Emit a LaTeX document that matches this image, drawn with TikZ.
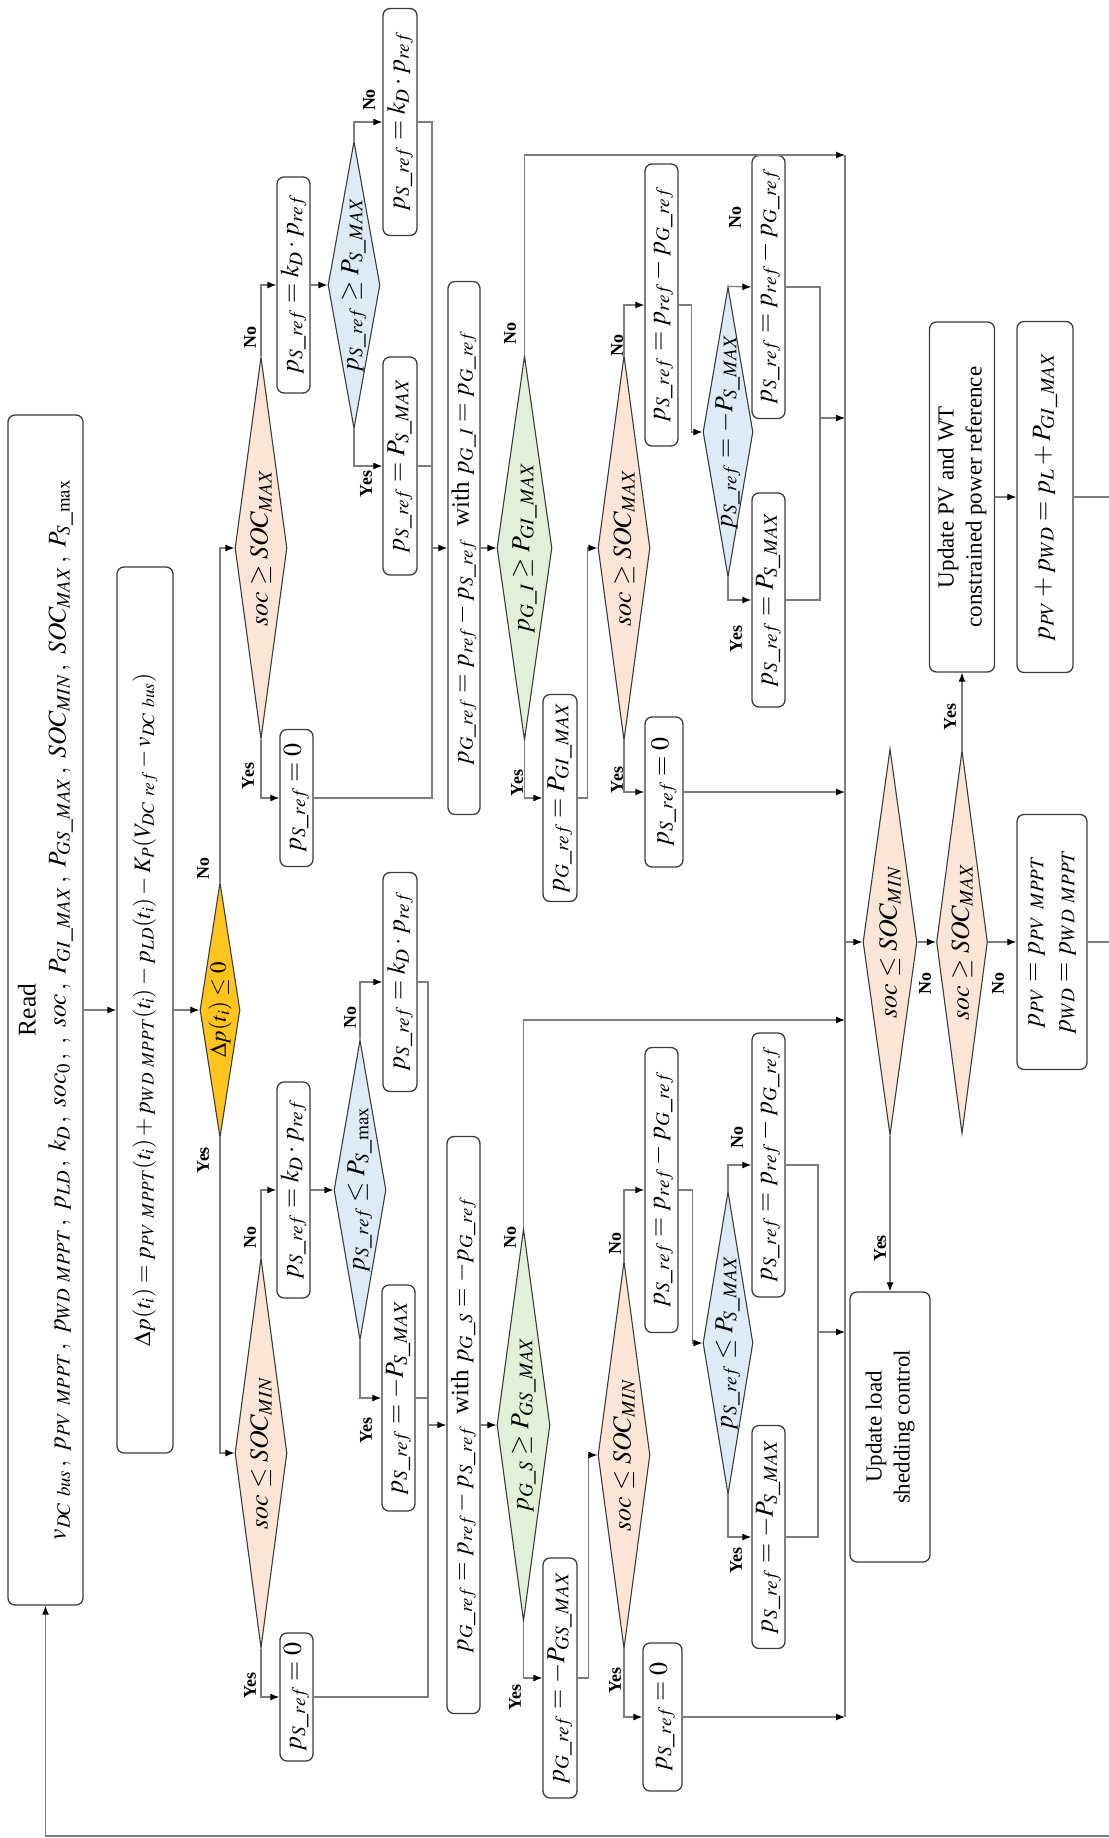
\documentclass[tikz,border=0pt]{standalone}
\usepackage{mathptmx}
\usepackage{fontspec}
\setmainfont{Liberation Serif}
\usetikzlibrary{shapes.geometric,arrows.meta}
\definecolor{figBord}{RGB}{60,60,60}
\definecolor{figTrait}{RGB}{125,125,125}
\definecolor{figPeche}{RGB}{251,229,214}
\definecolor{figBleuFond}{RGB}{222,235,247}
\definecolor{figVertFond}{RGB}{226,240,217}
\definecolor{figJaune}{RGB}{255,196,30}

\begin{document}
\begin{tikzpicture}[
  x=1pt, y=1pt, every node/.style={font=\fontsize{26}{31}\selectfont},
  proc/.style 2 args={draw=figBord, line width=1.3pt, rounded corners=7pt, fill=white, rotate=90,
              minimum width=#1pt, minimum height=#2pt, inner sep=1pt, align=center},
  dec/.style n args={3}{diamond, draw=figBord, line width=1.1pt, fill=#3, rotate=90, inner sep=0pt,
              minimum width=#1pt, minimum height=#2pt,
              execute at begin node={\hbox to 0pt\bgroup\hss}, execute at end node={\hss\egroup}},
  txt/.style={font=\fontsize{23}{28}\selectfont},
  lab/.style={font=\fontsize{18}{20}\selectfont\bfseries, rotate=90, inner sep=0pt},
  fl/.style={-{Latex[length=9pt, width=7pt, black]}, line width=1.2pt, figTrait},
  ln/.style={line width=1.2pt, figTrait}
]
\useasboundingbox (0,0) rectangle (1108,-1838);

% Lecture des mesures et bilan de puissance
\node[proc={1190}{75}, font=\fontsize{25.5}{30}\selectfont] (read) at (45.5,-1010) {Read\\
  $v_{DC\ bus}\,,\ p_{PV\ MPPT}\,,\ p_{WD\ MPPT}\,,\ p_{LD}\,,\ k_{D}\,,\ soc_{0}\,,\ ,\ soc\,,\ P_{GI\_MAX}\,,\ P_{GS\_MAX}\,,\ SOC_{MIN}\,,\ SOC_{MAX}\,,\ P_{S\_\mathrm{max}}$};
\node[proc={886}{56}, font=\fontsize{23.5}{28}\selectfont] (dp) at (145,-1010)
  {$\Delta p(t_i) = p_{PV\ MPPT}(t_i) + p_{WD\ MPPT}(t_i) - p_{LD}(t_i) - K_{P}(V_{DC\ ref} - v_{DC\ bus})$};
\node[dec={255}{40}{figJaune}, txt] (d0) at (220,-1010) {$\Delta p(t_i) \le 0$};

% Branche surplus (haut)
\node[dec={382}{52}{figPeche}] (t1) at (261,-548) {$soc \ge SOC_{MAX}$};
\node[proc={137}{33}] (t1y) at (296.5,-798) {$p_{S\_ref} = 0$};
\node[proc={216}{33}] (t1n) at (293.5,-285) {$p_{S\_ref} = k_D \cdot p_{ref}$};
\node[dec={287}{52}{figBleuFond}] (t2) at (354,-285) {$p_{S\_ref} \ge P_{S\_MAX}$};
\node[proc={227}{34}] (t2n) at (400,-122) {$p_{S\_ref} = k_D \cdot p_{ref}$};
\node[proc={218}{34}] (t2y) at (400,-466) {$p_{S\_ref} = P_{S\_MAX}$};
\node[proc={533}{32}, font=\fontsize{25}{30}\selectfont] (pg1) at (464,-548) {$p_{G\_ref} = p_{ref} - p_{S\_ref}$\enspace with $p_{G\_I} = p_{G\_ref}$};
\node[dec={384}{55}{figVertFond}] (g1) at (524.5,-548) {$p_{G\_I} \ge P_{GI\_MAX}$};
\node[proc={207}{34}] (g1y) at (560,-798) {$p_{G\_ref} = P_{GI\_MAX}$};
\node[dec={385}{52}{figPeche}] (t3) at (624,-548) {$soc \ge SOC_{MAX}$};
\node[proc={282}{33}] (t3n) at (661.5,-305) {$p_{S\_ref} = p_{ref} - p_{G\_ref}$};
\node[proc={150}{38}] (t3y) at (664,-792) {$p_{S\_ref} = 0$};
\node[dec={290}{50}{figBleuFond}] (t4) at (728,-432) {$p_{S\_ref} = -P_{S\_MAX}$};
\node[proc={263}{33}] (t4n) at (768.5,-287) {$p_{S\_ref} = p_{ref} - p_{G\_ref}$};
\node[proc={214}{33}] (t4y) at (768.5,-600) {$p_{S\_ref} = P_{S\_MAX}$};

% Branche deficit (bas)
\node[dec={390}{52}{figPeche}] (b1) at (261,-1453) {$soc \le SOC_{MIN}$};
\node[proc={128}{33}] (b1y) at (296.5,-1697) {$p_{S\_ref} = 0$};
\node[proc={216}{33}] (b1n) at (293.5,-1190) {$p_{S\_ref} = k_D \cdot p_{ref}$};
\node[dec={300}{52}{figBleuFond}] (b2) at (360,-1190) {$p_{S\_ref} \le P_{S\_\mathrm{max}}$};
\node[proc={219}{34}] (b2n) at (400,-982) {$p_{S\_ref} = k_D \cdot p_{ref}$};
\node[proc={226}{33}] (b2y) at (398.5,-1398) {$p_{S\_ref} = -P_{S\_MAX}$};
\node[proc={577}{33}, font=\fontsize{25}{30}\selectfont] (pg2) at (463.5,-1425) {$p_{G\_ref} = p_{ref} - p_{S\_ref}$\enspace with $p_{G\_S} = -p_{G\_ref}$};
\node[dec={392}{53}{figVertFond}] (g2) at (523.5,-1425) {$p_{G\_S} \ge P_{GS\_MAX}$};
\node[proc={240}{34}] (g2y) at (560,-1678) {$p_{G\_ref} = -P_{GS\_MAX}$};
\node[dec={387}{52}{figPeche}] (b3) at (624,-1455) {$soc \le SOC_{MIN}$};
\node[proc={285}{33}] (b3n) at (661.5,-1190) {$p_{S\_ref} = p_{ref} - p_{G\_ref}$};
\node[proc={148}{39}] (b3y) at (662.5,-1717) {$p_{S\_ref} = 0$};
\node[dec={303}{50}{figBleuFond}] (b4) at (728,-1343) {$p_{S\_ref} \le P_{S\_MAX}$};
\node[proc={264}{33}] (b4n) at (768.5,-1165) {$p_{S\_ref} = p_{ref} - p_{G\_ref}$};
\node[proc={223}{33}] (b4y) at (768.5,-1537) {$p_{S\_ref} = -P_{S\_MAX}$};

% Controle final
\node[dec={386}{54}{figPeche}] (s1) at (890,-942) {$soc \le SOC_{MIN}$};
\node[dec={383}{51}{figPeche}] (s2) at (962,-942) {$soc \ge SOC_{MAX}$};
\node[proc={255}{70}] (pv) at (1052,-942) {$p_{PV} = p_{PV\ MPPT}$\\ $p_{WD} = p_{WD\ MPPT}$};
\node[proc={270}{80}, txt] (ls) at (890,-1427) {Update load\\shedding control};
\node[proc={350}{65}, txt] (up) at (962,-497) {Update PV and WT\\constrained power reference};
\node[proc={351}{56}] (pl) at (1045,-497) {$p_{PV} + p_{WD} = p_{L} + P_{GI\_MAX}$};

\coordinate (busT) at (845,-155);
\coordinate (busB) at (845,-1717);
\coordinate (busG) at (845,-1020);
\coordinate (m1) at (432,-548);
\coordinate (m2) at (428,-1425);
\coordinate (j1) at (820,-418);
\coordinate (j2) at (818,-1332);
\coordinate (fbR) at (1110,-1836);

% Yes / No
\node[lab] (ld0n) at (203,-868) {No};
\node[lab] (ld0y) at (203,-1160) {Yes};
\node[lab] (lt1n) at (250,-337) {No};
\node[lab] (lt1y) at (248,-776) {Yes};
\node[lab] (lt2n) at (369,-100) {No};
\node[lab] (lt2y) at (366,-484) {Yes};
\node[lab] (lg1n) at (510,-333) {No};
\node[lab] (lg1y) at (517,-783) {Yes};
\node[lab] (lt3n) at (617,-345) {No};
\node[lab] (lt3y) at (617,-780) {Yes};
\node[lab] (lt4n) at (735,-217) {No};
\node[lab] (lt4y) at (736,-639) {Yes};
\node[lab] (lb1n) at (250,-1237) {No};
\node[lab] (lb1y) at (250,-1685) {Yes};
\node[lab] (lb2n) at (350,-1017) {No};
\node[lab] (lb2y) at (366,-1430) {Yes};
\node[lab] (lg2n) at (510,-1237) {No};
\node[lab] (lg2y) at (515,-1697) {Yes};
\node[lab] (lb3n) at (615,-1243) {No};
\node[lab] (lb3y) at (615,-1680) {Yes};
\node[lab] (lb4n) at (737,-1137) {No};
\node[lab] (lb4y) at (736,-1560) {Yes};
\node[lab] (ls1n) at (925,-983) {No};
\node[lab] (ls2n) at (998,-983) {No};
\node[lab] (ls1y) at (880,-1248) {Yes};
\node[lab] (ls2y) at (950,-717) {Yes};

% Liaisons
\draw[fl] (read.south) -- (dp.north);
\draw[fl] (dp.south) -- (d0.north);
\draw[fl] (d0.east) |- (t1.north);
\draw[fl] (d0.west) |- (b1.north);

\draw[fl] (t1.west) |- (t1y.north);
\draw[fl] (t1.east) |- (t1n.north);
\draw[fl] (t1n.south) -- (t2.north);
\draw[fl] (t2.east) |- (t2n.north);
\draw[fl] (t2.west) |- (t2y.north);
\draw[ln] (t2n.south) -| (m1);
\draw[ln] (t2y.south) -| (m1);
\draw[ln] (t1y.south) -| (m1);
\draw[fl] (m1) -- (pg1.north);
\draw[fl] (pg1.south) -- (g1.north);
\draw[fl] (g1.east) |- (busT);
\draw[fl] (g1.west) |- (g1y.north);
\draw[fl] (g1y.south) -- ++(10,0) |- (t3.north);
\draw[fl] (t3.east) |- (t3n.north);
\draw[fl] (t3.west) |- (t3y.north);
\draw[fl] (t3n.south) -- ++(13,0) |- (t4.north);
\draw[fl] (t4.east) -- (t4n.north);
\draw[fl] (t4.west) |- (t4y.north);
\draw[ln] (t4n.south) -| (j1);
\draw[ln] (t4y.south) -| (j1);
\draw[fl] (j1) -- (j1 -| busT);
\draw[fl] (t3y.south) -- (t3y.south -| busT);

\draw[fl] (b1.west) |- (b1y.north);
\draw[fl] (b1.east) |- (b1n.north);
\draw[fl] (b1n.south) -- (b2.north);
\draw[fl] (b2.east) |- (b2n.north);
\draw[fl] (b2.west) |- (b2y.north);
\draw[ln] (b2n.south) -| (m2);
\draw[ln] (b2y.south) -| (m2);
\draw[ln] (b1y.south) -| (m2);
\draw[fl] (m2) -- (pg2.north);
\draw[fl] (pg2.south) -- (g2.north);
\draw[fl] (g2.east) |- (busG);
\draw[fl] (g2.west) |- (g2y.north);
\draw[fl] (g2y.south) -- ++(11,0) |- (b3.north);
\draw[fl] (b3.east) |- (b3n.north);
\draw[fl] (b3.west) |- (b3y.north);
\draw[fl] (b3n.south) -- ++(14,0) |- (b4.north);
\draw[fl] (b4.east) |- (b4n.north);
\draw[fl] (b4.west) |- (b4y.north);
\draw[ln] (b4n.south) -| (j2);
\draw[ln] (b4y.south) -| (j2);
\draw[fl] (j2) -- (j2 -| busT);
\draw[fl] (b3y.south) -- (b3y.south -| busT);

\draw[ln] (busT) -- (busB);
\draw[fl] (s1.north -| busT) -- (s1.north);
\draw[fl] (s1.south) -- (s2.north);
\draw[fl] (s2.south) -- (pv.north);
\draw[fl] (s1.west) -- (ls.east);
\draw[fl] (s2.east) -- (up.west);
\draw[fl] (up.south) -- (pl.north);
\draw[ln] (pl.south) -| (fbR);
\draw[ln] (pv.south) -- (pv.south -| fbR);
\draw[fl] (fbR) -| (read.west);
\end{tikzpicture}
\end{document}
